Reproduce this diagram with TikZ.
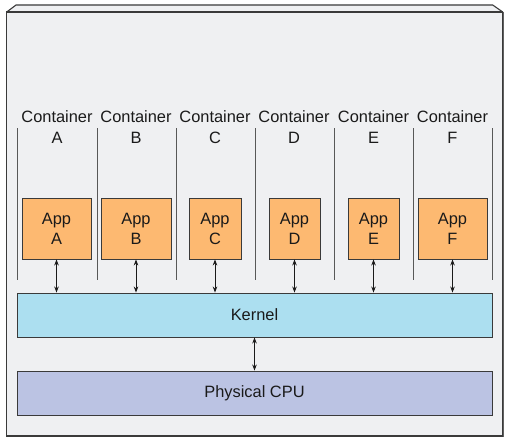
\documentclass[tikz,border=0pt]{standalone}
\usepackage{fontspec}
\setmainfont{Liberation Sans}
\usetikzlibrary{arrows.meta}
\definecolor{bgfill}{HTML}{EFF0F2}
\definecolor{edge}{HTML}{3A3A3A}
\definecolor{appfill}{HTML}{FDB971}
\definecolor{kernfill}{HTML}{ACDFF0}
\definecolor{cpufill}{HTML}{BBC3E3}
\definecolor{txt}{HTML}{1A1A1A}
\tikzset{
  appbox/.style={draw=edge, line width=0.9pt, fill=appfill, minimum height=61pt, inner sep=0pt, align=center, text=txt, font=\fontsize{16.4}{20}\selectfont},
  layerbox/.style={draw=edge, line width=0.9pt, minimum width=475pt, minimum height=44pt, inner sep=0pt, text=txt, font=\fontsize{16.4}{20}\selectfont},
  clabel/.style={align=center, text=txt, font=\fontsize{16.4}{21}\selectfont, inner sep=0pt},
  divider/.style={draw=edge!85, line width=1pt},
  link/.style={{Stealth[length=6pt,width=4.5pt]}-{Stealth[length=6pt,width=4.5pt]}, line width=0.8pt, draw=txt}
}
\begin{document}
\begin{tikzpicture}[x=1pt,y=-1pt]
\useasboundingbox (0,0) rectangle (513,444);
\fill[white] (0,0) rectangle (513,444);
% 3D outer box
\filldraw[fill=bgfill, draw=edge, line width=1.1pt, line join=round] (6.7,12) -- (16,5) -- (492.7,5) -- (502.7,12) -- cycle;
\filldraw[fill=bgfill, draw=edge, line width=1.3pt] (6.7,12) rectangle (502.7,436);
\draw[draw=edge!80, line width=1.3pt] (503.4,12) -- (503.4,436.5);
% dividers
\foreach \x in {17,97,176,255.5,334.5,413.5,492.5} {
  \draw[divider] (\x,128) -- (\x,280);
}
% container labels
\node[clabel] (cA) at (57,127) {Container\\A};
\node[clabel] (cB) at (136,127) {Container\\B};
\node[clabel] (cC) at (215,127) {Container\\C};
\node[clabel] (cD) at (294,127) {Container\\D};
\node[clabel] (cE) at (373.5,127) {Container\\E};
\node[clabel] (cF) at (452.5,127) {Container\\F};
% apps
\node[appbox, minimum width=69pt] (aA) at (56.5,228.5) {App\\A};
\node[appbox, minimum width=70pt] (aB) at (136,228.5) {App\\B};
\node[appbox, minimum width=52pt] (aC) at (215,228.5) {App\\C};
\node[appbox, minimum width=51pt] (aD) at (294.5,228.5) {App\\D};
\node[appbox, minimum width=51pt] (aE) at (373.5,228.5) {App\\E};
\node[appbox, minimum width=69pt] (aF) at (452.5,228.5) {App\\F};
% layers
\node[layerbox, fill=kernfill] (kernel) at (254.5,315) {Kernel};
\node[layerbox, fill=cpufill] (cpu) at (254.5,393) {Physical CPU};
% links
\foreach \a in {aA,aB,aC,aD,aE,aF} {
  \draw[link] (\a.south) -- (\a.south |- kernel.north);
}
\draw[link] (kernel.south) -- (cpu.north);
\end{tikzpicture}
\end{document}
